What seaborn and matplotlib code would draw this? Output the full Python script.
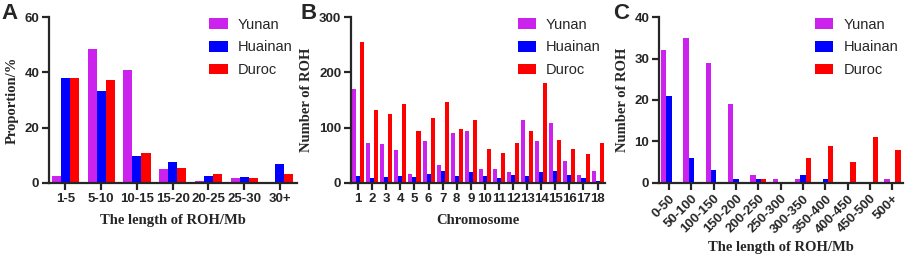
import pandas as pd
import seaborn as sns
import matplotlib.pyplot as plt

breeds = ['Yunan', 'Huainan', 'Duroc']
colors = ['#CC22EE', '#0000FF', '#FF0000']

# panel A: proportion of ROH by length class
len_bins = ['1-5', '5-10', '10-15', '15-20', '20-25', '25-30', '30+']
prop_yunan = [2.5, 48.3, 40.7, 5.2, 0.8, 1.9, 0.0]
prop_huainan = [37.8, 33.1, 9.6, 7.5, 2.4, 2.0, 7.0]
prop_duroc = [38.0, 37.1, 10.8, 5.4, 3.4, 1.7, 3.1]

# panel B: number of ROH per chromosome
chroms = [str(i) for i in range(1, 19)]
chr_yunan = [170, 73, 71, 60, 17, 75, 32, 91, 93, 26, 26, 20, 113, 75, 108, 40, 15, 22]
chr_huainan = [12, 8, 10, 12, 11, 16, 22, 13, 20, 12, 9, 14, 12, 19, 21, 14, 8, 4]
chr_duroc = [255, 132, 125, 142, 93, 117, 146, 98, 114, 62, 55, 73, 93, 181, 77, 62, 53, 72]

# panel C: number of ROH by length class
c_bins = ['0-50', '50-100', '100-150', '150-200', '200-250', '250-300',
          '300-350', '350-400', '400-450', '450-500', '500+']
c_yunan = [32, 35, 29, 19, 2, 1, 1, 0, 0, 0, 1]
c_huainan = [21, 6, 3, 1, 1, 0, 2, 1, 0, 0, 0]
c_duroc = [0, 0, 0, 0, 1, 0, 6, 9, 5, 11, 8]


def long_df(cats, series):
    rows = []
    for b, vals in zip(breeds, series):
        for c, v in zip(cats, vals):
            rows.append({'cat': c, 'breed': b, 'value': v})
    return pd.DataFrame(rows)


sns.set_style('ticks')
plt.rcParams['font.family'] = ['Liberation Sans', 'DejaVu Sans']
plt.rcParams['axes.linewidth'] = 1.6

fig = plt.figure(figsize=(9.13, 2.58), dpi=100)
axA = fig.add_axes([0.0537, 0.291, 0.2716, 0.643])
axB = fig.add_axes([0.3844, 0.291, 0.2783, 0.643])
axC = fig.add_axes([0.7218, 0.291, 0.2670, 0.643])

serif = {'family': 'Liberation Serif', 'weight': 'bold', 'size': 10.5}

panels = [
    (axA, len_bins, [prop_yunan, prop_huainan, prop_duroc], 0.76, (0, 60), [0, 20, 40, 60],
     'Proportion/%', 'The length of ROH/Mb', 'A'),
    (axB, chroms, [chr_yunan, chr_huainan, chr_duroc], 0.86, (0, 300), [0, 100, 200, 300],
     'Number of ROH', 'Chromosome', 'B'),
    (axC, c_bins, [c_yunan, c_huainan, c_duroc], 0.72, (0, 40), [0, 10, 20, 30, 40],
     'Number of ROH', 'The length of ROH/Mb', 'C'),
]

for ax, cats, series, w, ylim, yt, ylab, xlab, letter in panels:
    df = long_df(cats, series)
    sns.barplot(data=df, x='cat', y='value', hue='breed', palette=colors,
                width=w, saturation=1, linewidth=0, ax=ax, order=cats,
                hue_order=breeds)
    n = len(cats)
    ax.set_xlim(-w / 2 - 0.08, n - 1 + w / 2 + 0.1)
    ax.set_ylim(*ylim)
    ax.set_yticks(yt)
    sns.despine(ax=ax)
    ax.tick_params(axis='both', width=1.6, length=5, labelsize=9.5, pad=2)
    for lbl in ax.get_xticklabels() + ax.get_yticklabels():
        lbl.set_fontweight('bold')
    ax.set_ylabel(ylab, fontdict=serif, labelpad=4)
    ax.set_xlabel(xlab, fontdict=serif, labelpad=7)
    ax.legend(frameon=False, loc='upper right', bbox_to_anchor=(1.035, 1.075),
              fontsize=10.5, handlelength=1.25, handleheight=0.75,
              labelspacing=0.6, handletextpad=0.7)
    ax.text(-0.19 if letter != 'B' else -0.2, 1.02, letter, transform=ax.transAxes,
            fontsize=16, fontweight='bold', ha='left', va='center')

for lbl in axC.get_xticklabels():
    lbl.set_rotation(45)
    lbl.set_ha('right')
    lbl.set_rotation_mode('anchor')
axC.xaxis.labelpad = 4

fig.savefig('out.png', dpi=100)
